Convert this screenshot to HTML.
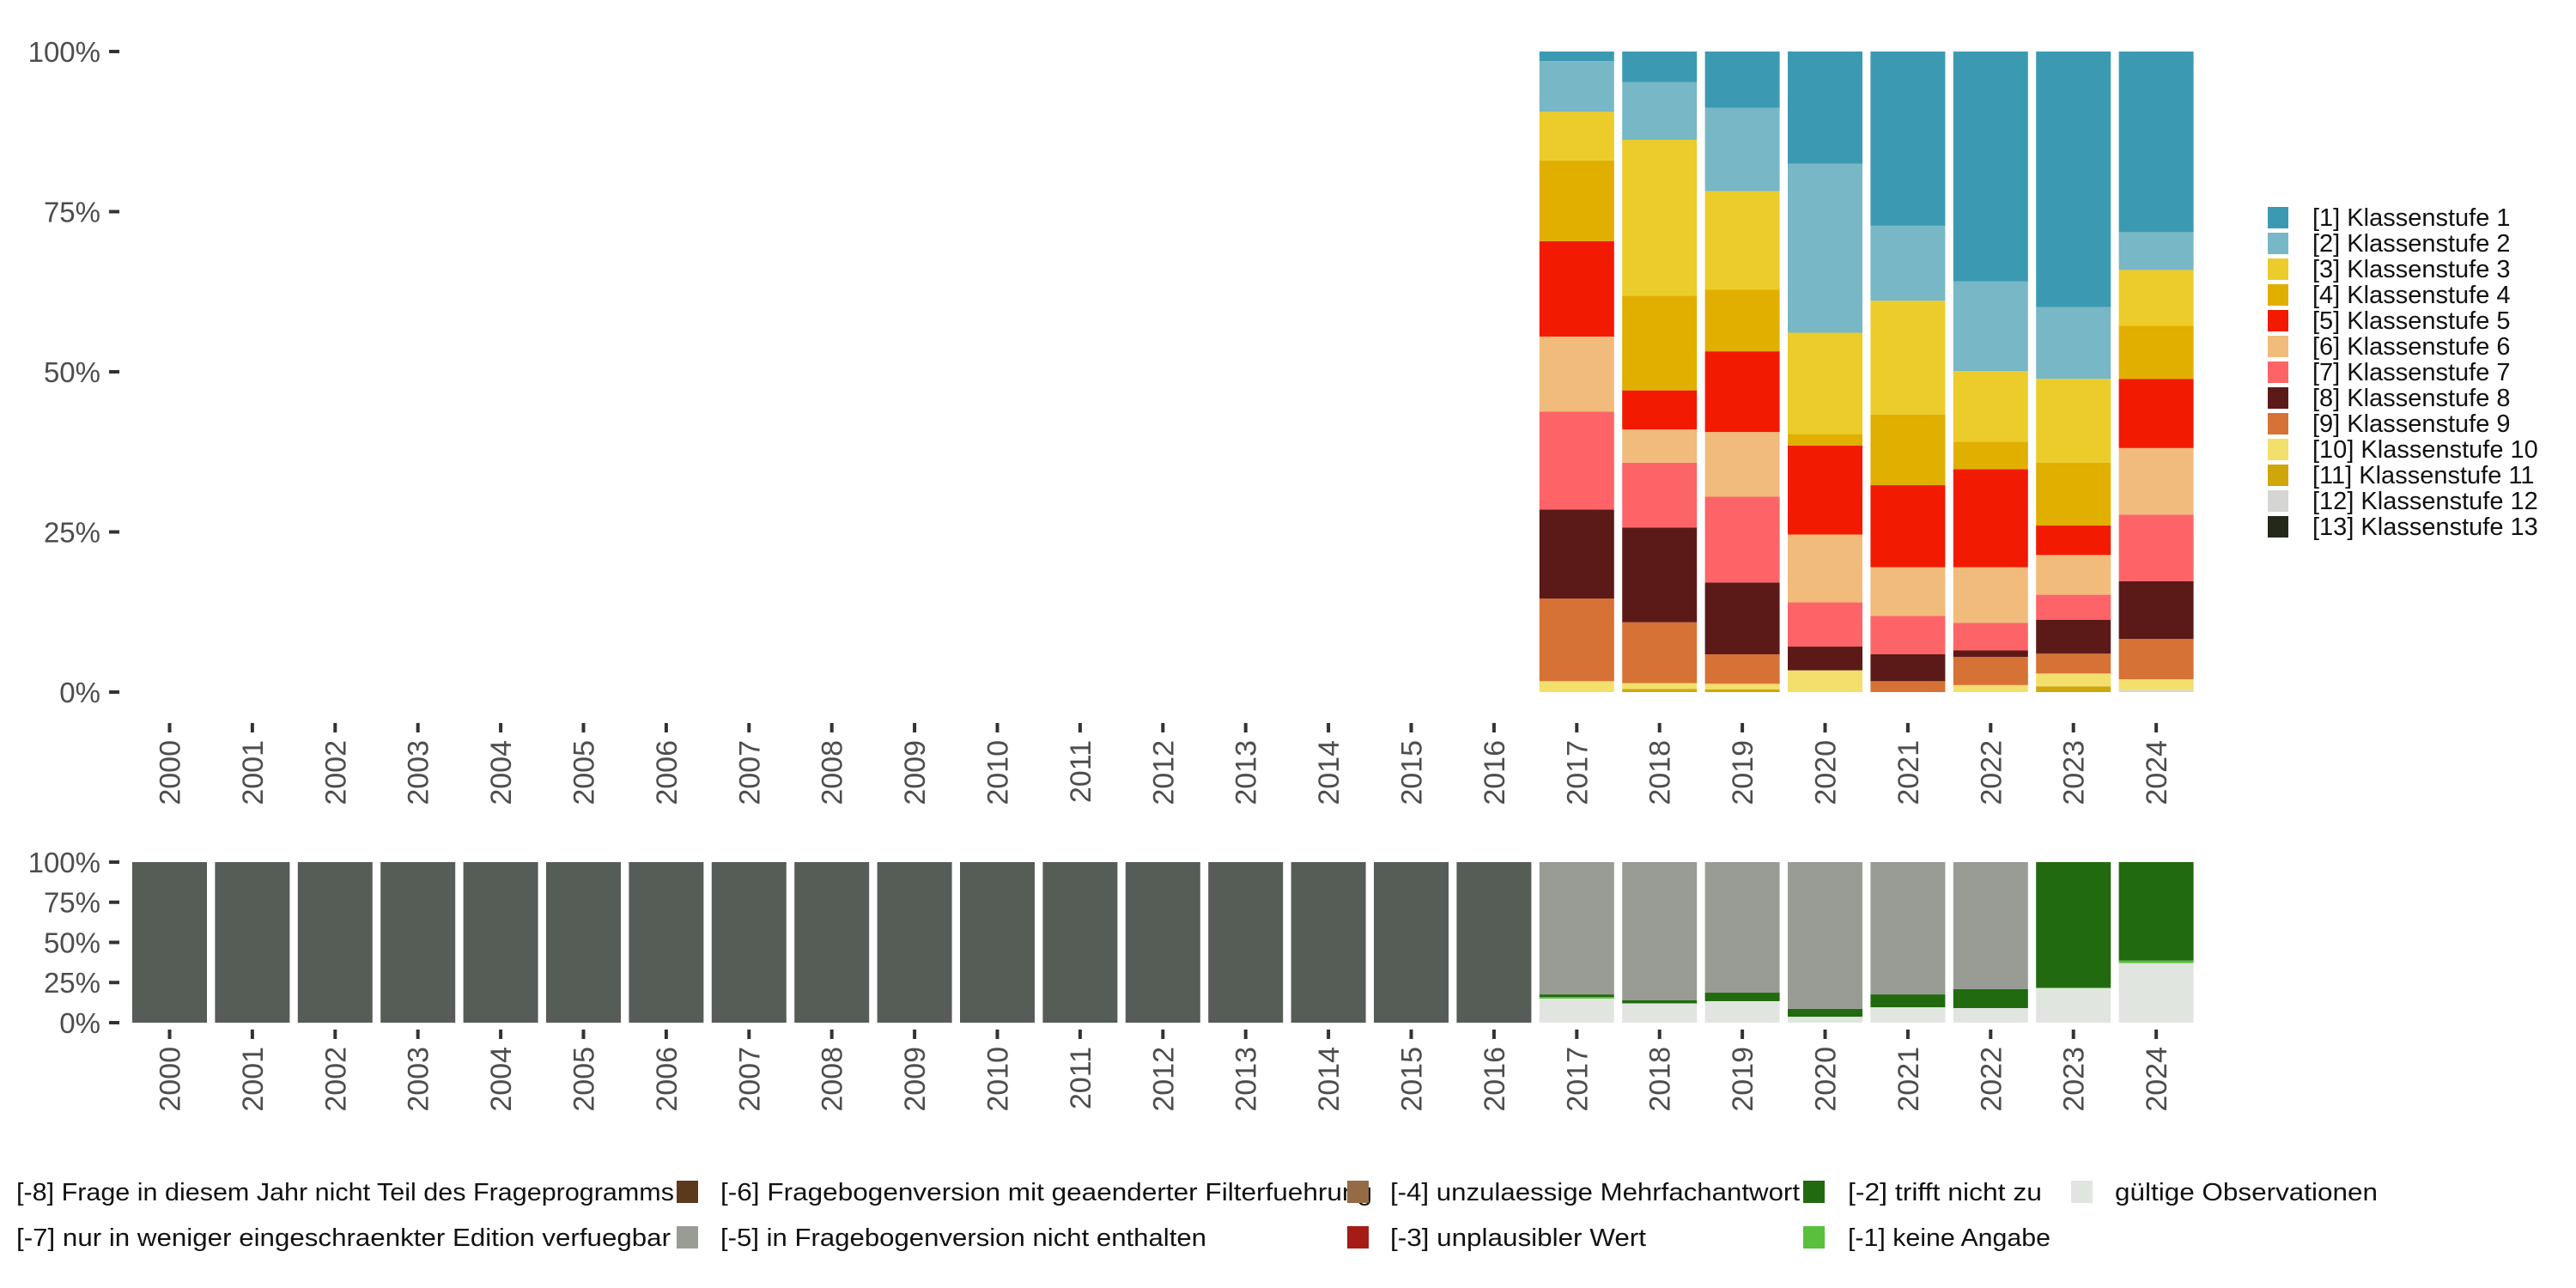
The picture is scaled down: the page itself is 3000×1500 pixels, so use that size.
<!DOCTYPE html>
<html><head><meta charset="utf-8">
<style>
html,body{margin:0;padding:0;background:#fff;}
svg{display:block;font-family:"Liberation Sans","DejaVu Sans",sans-serif;}
</style></head>
<body>
<svg id="chart" width="3000" height="1500" viewBox="0 0 3000 1500" xmlns="http://www.w3.org/2000/svg">
<g id="topPanel"></g>
<g id="botPanel"></g>
<g id="legR"></g>
<g id="legB"></g>
</svg>
<script>
const years = ["2000","2001","2002","2003","2004","2005","2006","2007","2008","2009","2010","2011","2012","2013","2014","2015","2016","2017","2018","2019","2020","2021","2022","2023","2024"];
const yTicks = [0,25,50,75,100];
const yTickLabels = ["0%","25%","50%","75%","100%"];
const gradeLabels = ["[1] Klassenstufe 1","[2] Klassenstufe 2","[3] Klassenstufe 3","[4] Klassenstufe 4","[5] Klassenstufe 5","[6] Klassenstufe 6","[7] Klassenstufe 7","[8] Klassenstufe 8","[9] Klassenstufe 9","[10] Klassenstufe 10","[11] Klassenstufe 11","[12] Klassenstufe 12","[13] Klassenstufe 13"];
const gradeColors = ["#3B9AB2","#78B7C5","#EBCC2A","#E1AF00","#F21A00","#F1BB7B","#FD6467","#5B1A18","#D67236","#F3DF6C","#D0A70A","#D5D5D3","#24281A"];
const gradeYears = ["2017","2018","2019","2020","2021","2022","2023","2024"];
const g2017 = [1.5,7.9,7.6,12.6,14.9,11.7,15.3,13.9,12.9,1.7,0,0,0];
const g2018 = [4.8,9.0,24.3,14.8,6.1,5.2,10.1,14.8,9.5,0.9,0.5,0,0];
const g2019 = [8.8,13.0,15.4,9.6,12.6,10.1,13.4,11.2,4.6,0.9,0.4,0,0];
const g2020 = [17.5,26.4,15.8,1.8,13.9,10.6,6.9,3.7,0,3.4,0,0,0];
const g2021 = [27.2,11.7,17.8,11.0,12.8,7.6,6.0,4.2,1.7,0,0,0,0];
const g2022 = [35.9,14.0,11.0,4.3,15.3,8.7,4.3,1.0,4.4,1.1,0,0,0];
const g2023 = [39.9,11.2,13.1,9.8,4.6,6.2,3.9,5.3,3.1,2.0,0.9,0,0];
const g2024 = [28.2,5.9,8.7,8.3,10.8,10.4,10.4,9.0,6.3,1.7,0,0.3,0];
const gradeSeries = [g2017,g2018,g2019,g2020,g2021,g2022,g2023,g2024];
const missLabels = ["gültige Observationen","[-1] keine Angabe","[-2] trifft nicht zu","[-5] in Fragebogenversion nicht enthalten","[-8] Frage in diesem Jahr nicht Teil des Frageprogramms"];
const missColors = ["#E1E5E0","#58C03C","#216A0F","#989C95","#565C56"];
const valid  = [0,0,0,0,0,0,0,0,0,0,0,0,0,0,0,0,0,15.0,11.8,13.4,3.7,9.6,9.1,21.4,37.1];
const noAns  = [0,0,0,0,0,0,0,0,0,0,0,0,0,0,0,0,0,1.0,0.5,0,0,0,0,0.5,1.6];
const notApp = [0,0,0,0,0,0,0,0,0,0,0,0,0,0,0,0,0,1.6,1.6,5.3,4.9,8.0,11.8,78.1,61.3];
const notIn  = [0,0,0,0,0,0,0,0,0,0,0,0,0,0,0,0,0,82.4,86.1,81.3,91.4,82.4,79.1,0,0];
const notAsk = [100,100,100,100,100,100,100,100,100,100,100,100,100,100,100,100,100,0,0,0,0,0,0,0,0];
const missSeries = [valid,noAns,notApp,notIn,notAsk];

const NS="http://www.w3.org/2000/svg";
function mk(tag,attrs,parent){const e=document.createElementNS(NS,tag);for(const k in attrs)e.setAttribute(k,attrs[k]);parent.appendChild(e);return e;}
const X0=197.5, STEP=96.4, BW=87;
function xc(i){return X0+i*STEP;}
function yTop(v){return 806-(v/100)*746;}
function yBot(v){return 1191-(v/100)*187;}

function axes(g,yf,tickY,labY,name,fs){
  yTicks.forEach((t,k)=>{
    const tk=mk('line',{x1:127,x2:139,y1:yf(t),y2:yf(t),stroke:'#333',"stroke-width":4},g);
    
    
    const lb=mk('text',{x:117,y:yf(t)+fs*0.36,"text-anchor":"end","font-size":fs,fill:'#4d4d4d'},g);
    lb.textContent=yTickLabels[k];
    
    
  });
  years.forEach((y,i)=>{
    const tk=mk('line',{x1:xc(i),x2:xc(i),y1:tickY,y2:tickY+11,stroke:'#333',"stroke-width":4},g);
    
    
    const lb=mk('text',{x:0,y:0,"text-anchor":"end","font-size":34,fill:'#4d4d4d',transform:`translate(${xc(i)+12},${labY}) rotate(-90)`},g);
    lb.textContent=y;
    
    
  });
}

const topG=document.getElementById('topPanel');
gradeYears.forEach((yr,j)=>{
  const i=years.indexOf(yr);
  const vals=gradeSeries[j];
  let cum=0;
  for(let c=vals.length-1;c>=0;c--){
    const v=vals[c]; if(v<=0) continue;
    const r=mk('rect',{x:xc(i)-BW/2,y:yTop(cum+v),width:BW,height:yTop(cum)-yTop(cum+v),fill:gradeColors[c]},topG);
    
    
    cum+=v;
  }
});
axes(topG,yTop,842,862,'top',33);

const botG=document.getElementById('botPanel');
years.forEach((yr,i)=>{
  let cum=0;
  missSeries.forEach((s,c)=>{
    const v=s[i]; if(v<=0) return;
    const r=mk('rect',{x:xc(i)-BW/2,y:yBot(cum+v),width:BW,height:yBot(cum)-yBot(cum+v),fill:missColors[c]},botG);
    
    
    cum+=v;
  });
});
axes(botG,yBot,1199,1219,'bottom',33);

const legR=document.getElementById('legR');
gradeLabels.forEach((t,k)=>{
  const y=241+k*30;
  const s=mk('rect',{x:2641,y:y,width:24,height:25,fill:gradeColors[k]},legR);
  
  
  const tx=mk('text',{x:2693,y:y+22,"font-size":29,fill:'#111'},legR);
  tx.textContent=t;
  
  
});

const legB=document.getElementById('legB');
const bItems=[
  {t:"[-8] Frage in diesem Jahr nicht Teil des Frageprogramms",sx:null,tx:19,row:0,c:null,w:766},
  {t:"[-7] nur in weniger eingeschraenkter Edition verfuegbar",sx:null,tx:19,row:1,c:null,w:762},
  {t:"[-6] Fragebogenversion mit geaenderter Filterfuehrung",sx:788,tx:839,row:0,c:"#5B3A1C",w:759},
  {t:"[-5] in Fragebogenversion nicht enthalten",sx:788,tx:839,row:1,c:"#989C95",w:566},
  {t:"[-4] unzulaessige Mehrfachantwort",sx:1569,tx:1619,row:0,c:"#946B45",w:477},
  {t:"[-3] unplausibler Wert",sx:1569,tx:1619,row:1,c:"#A51C16",w:298},
  {t:"[-2] trifft nicht zu",sx:2100,tx:2152,row:0,c:"#216A0F",w:226},
  {t:"[-1] keine Angabe",sx:2100,tx:2152,row:1,c:"#58C03C",w:236},
  {t:"gültige Observationen",sx:2412,tx:2463,row:0,c:"#E1E5E0",w:306}
];
bItems.forEach((it,k)=>{
  const cy=it.row===0?1388:1441;
  if(it.c){
    const s=mk('rect',{x:it.sx,y:cy-13,width:25,height:26,fill:it.c},legB);
    
    
  }
  const tx=mk('text',{x:it.tx,y:cy+10,"font-size":29,fill:'#111',textLength:it.w,lengthAdjust:'spacingAndGlyphs'},legB);
  tx.textContent=it.t;
  
  
});
</script>
</body></html>
